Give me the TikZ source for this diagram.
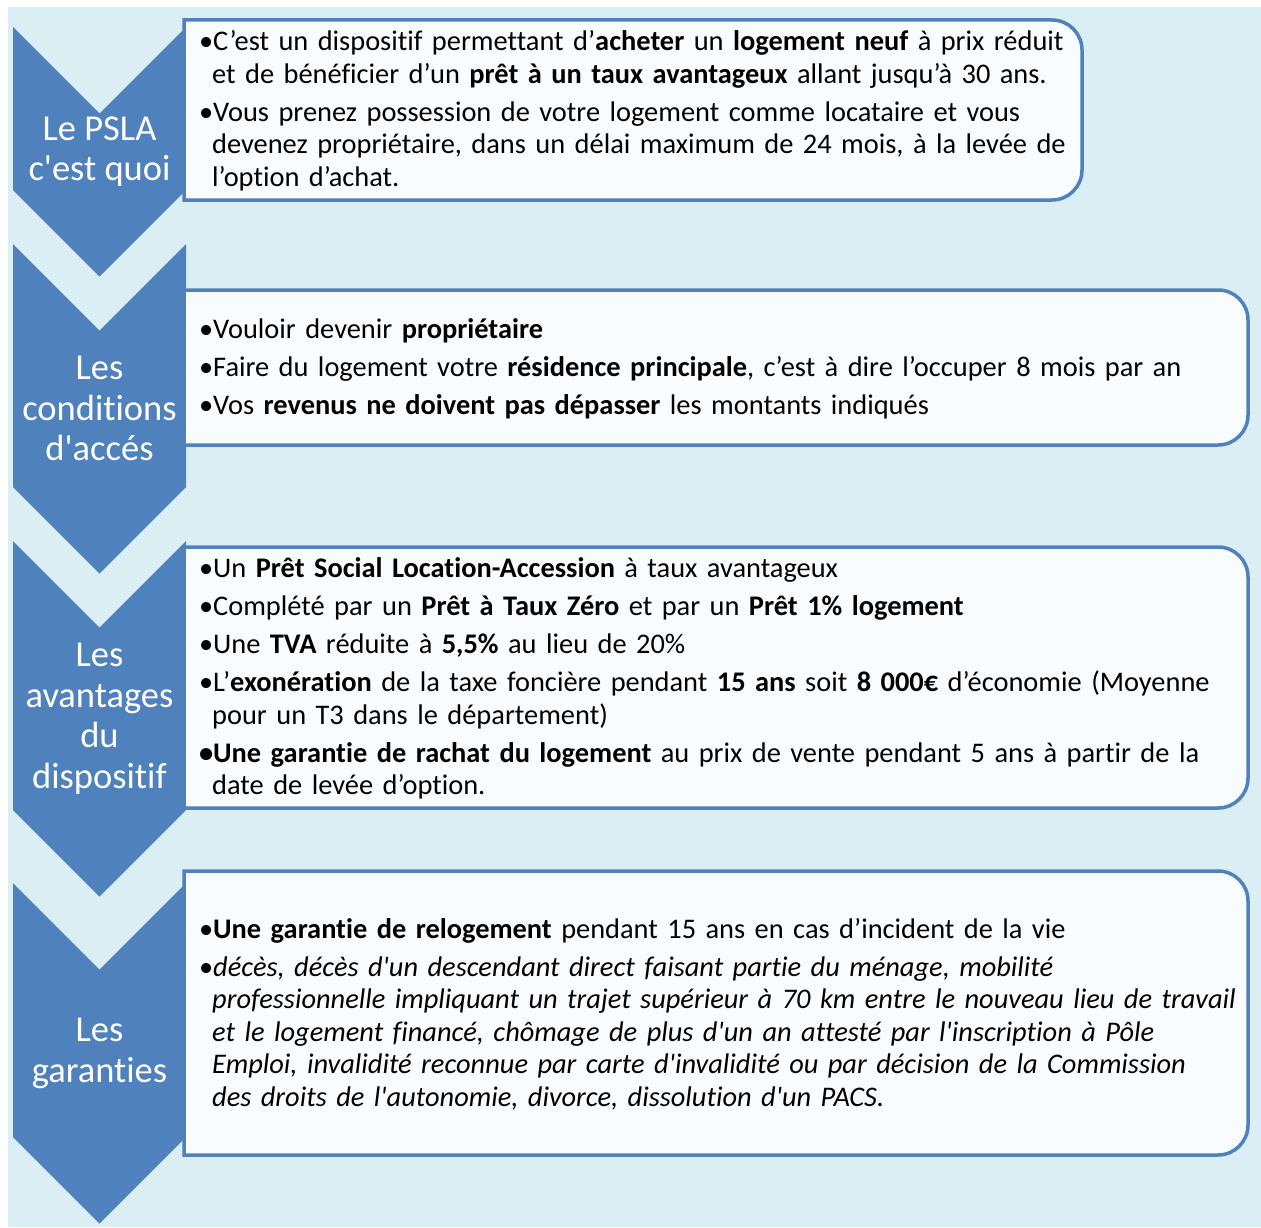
\documentclass[tikz,border=0pt]{standalone}
\usepackage{fontspec}
\setmainfont{Carlito}[Ligatures=NoCommon]
\usetikzlibrary{positioning}
\definecolor{bgblue}{RGB}{219,238,244}
\definecolor{chevblue}{RGB}{79,129,189}
\definecolor{boxfill}{RGB}{249,252,254}
\newcommand{\itm}[1]{\par\hangindent=13pt\hangafter=1\noindent\makebox[14pt][l]{•}#1}
\newcommand{\sq}{\textquotesingle}

\begin{document}
\begin{tikzpicture}[x=1pt,y=-1pt,
  chev/.style={fill=chevblue},
  card/.style={draw=chevblue, line width=3.5pt, fill=boxfill},
  head/.style={text=white, align=center, inner sep=0pt, font=\fontsize{36.5}{40.5}\selectfont},
  body/.style={anchor=west, inner sep=0pt, text width=#1, font=\fontsize{28.4}{32.5}\selectfont,
    execute at begin node={\setlength{\parskip}{5.5pt}\raggedright}}
]
\useasboundingbox (0,0) rectangle (1261,1228);
\fill[bgblue] (8,7) rectangle (1261,1227);
% chevrons with their titles
\foreach \n/\t/\b/\lab in {h1/27/190/{Le PSLA\\c\sq est quoi}, h2/244/487/{Les\\conditions\\d\sq accés},
  h3/541/810/{Les\\avantages\\du\\dispositif}, h4/883/1137/{Les\\garanties}} {
  \fill[chev] (13,\t) -- (99.5,\t+86.5) -- (186,\t) -- (186,\b) -- (99.5,\b+86.5) -- (13,\b) -- cycle;
  \node[head] (\n) at (99.5,{(\t+\b+86.5)/2}) {\lab};
}
% cards, rounded on the right only
\foreach \t/\b/\r in {20/200/1082, 290/445/1248, 547/808/1248, 871/1155/1248}
  \draw[card] (184,\t) [rounded corners=30pt] -- (\r,\t) -- (\r,\b) [sharp corners] -- (184,\b) -- cycle;
\node[body=900pt] (t1) at (199,102) {%
  \itm{C’est un dispositif permettant d’\textbf{acheter} un \textbf{logement neuf} à prix réduit\newline
    et de bénéficier d’un \textbf{prêt à un taux avantageux} allant jusqu’à 30 ans.}
  \itm{Vous prenez possession de votre logement comme locataire et vous\newline
    devenez propriétaire, dans un délai maximum de 24 mois, à la levée de\newline
    l’option d’achat.}\par};
\node[body=1045pt] (t2) at (199,359.5) {%
  \itm{Vouloir devenir \textbf{propriétaire}}
  \itm{Faire du logement votre \textbf{résidence principale}, c’est à dire l’occuper 8 mois par an}
  \itm{Vos \textbf{revenus ne doivent pas dépasser} les montants indiqués}\par};
\node[body=1045pt] (t3) at (199,669.5) {%
  \itm{Un \textbf{Prêt Social Location-Accession} à taux avantageux}
  \itm{Complété par un \textbf{Prêt à Taux Zéro} et par un \textbf{Prêt 1\% logement}}
  \itm{Une \textbf{TVA} réduite à \textbf{5,5\%} au lieu de 20\%}
  \itm{L’\textbf{exonération} de la taxe foncière pendant \textbf{15 ans} soit \textbf{8 000€} d’économie (Moyenne\newline
    pour un T3 dans le département)}
  \par\hangindent=13pt\hangafter=1\noindent\makebox[14pt][l]{\textbf{•}}\textbf{Une garantie de rachat du logement} au prix de vente pendant 5 ans à partir de la\newline
    date de levée d’option.\par};
\node[body=1045pt] (t4) at (199,1005) {%
  \itm{\textbf{Une garantie de relogement} pendant 15 ans en cas d’incident de la vie}
  \itm{\itshape décès, décès d\sq un descendant direct faisant partie du ménage, mobilité\newline
    professionnelle impliquant un trajet supérieur à 70 km entre le nouveau lieu de travail\newline
    et le logement financé, chômage de plus d\sq un an attesté par l\sq inscription à Pôle\newline
    Emploi, invalidité reconnue par carte d\sq invalidité ou par décision de la Commission\newline
    des droits de l\sq autonomie, divorce, dissolution d\sq un PACS.\par}};
\end{tikzpicture}
\end{document}
